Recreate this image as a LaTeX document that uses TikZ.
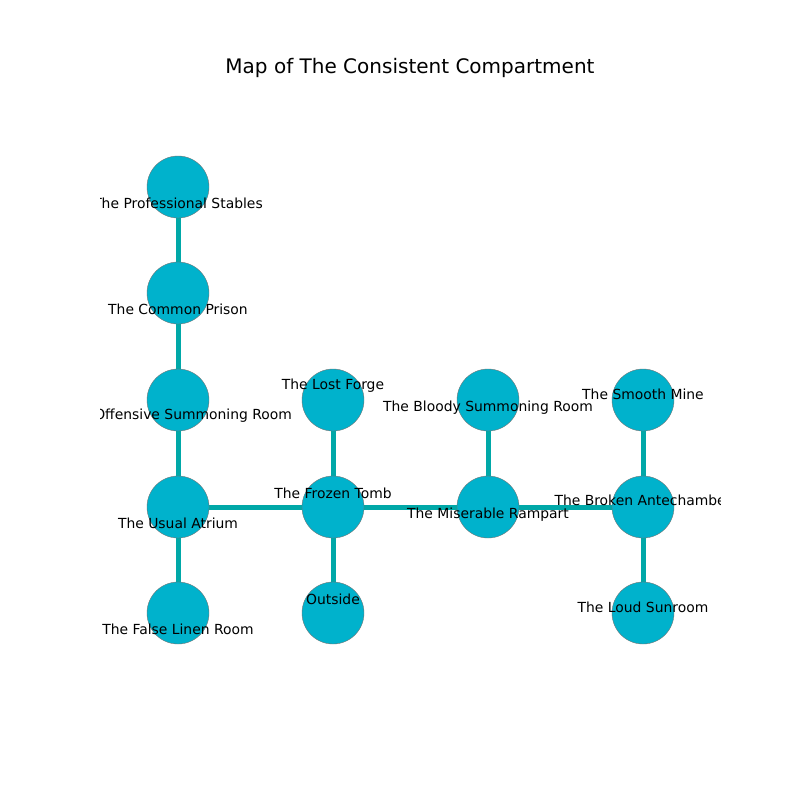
\documentclass[tikz,border=0pt]{standalone}
\usepackage{fontspec}
\setmainfont{DejaVu Sans}
\definecolor{roomfill}{RGB}{0,178,204}
\definecolor{passage}{RGB}{0,168,168}

\begin{document}
\begin{tikzpicture}[x=1pt, y=-1pt,
	room/.style={circle, fill=roomfill, draw=black!55, line width=0.4pt, minimum size=62pt, inner sep=0pt},
	door/.style={line width=5pt, color=passage},
	tag/.style={font=\fontsize{13.9}{16}\selectfont, inner sep=0pt, anchor=center}]
	%%%%% START %%%%%
	
	\useasboundingbox (0, 0) rectangle (800, 800);
	\fill[white] (0, 0) rectangle (800, 800);
	
	\node[font=\fontsize{20}{24}\selectfont] (title) at (410, 68) {Map of The Consistent Compartment};
	
	\coordinate (stables) at (178, 187);
	\coordinate (prison) at (178, 293);
	\coordinate (offensive) at (178, 400);
	\coordinate (atrium) at (178, 507);
	\coordinate (linen) at (178, 613);
	\coordinate (forge) at (333, 400);
	\coordinate (tomb) at (333, 507);
	\coordinate (outside) at (333, 613);
	\coordinate (bloody) at (488, 400);
	\coordinate (rampart) at (488, 507);
	\coordinate (mine) at (643, 400);
	\coordinate (antechamber) at (643, 507);
	\coordinate (sunroom) at (643, 613);
	
	\draw[door] (stables) -- (prison);
	\draw[door] (prison) -- (offensive);
	\draw[door] (offensive) -- (atrium);
	\draw[door] (atrium) -- (linen);
	\draw[door] (atrium) -- (tomb);
	\draw[door] (tomb) -- (forge);
	\draw[door] (tomb) -- (outside);
	\draw[door] (tomb) -- (rampart);
	\draw[door] (rampart) -- (bloody);
	\draw[door] (rampart) -- (antechamber);
	\draw[door] (antechamber) -- (mine);
	\draw[door] (antechamber) -- (sunroom);
	
	\foreach \r in {stables, prison, offensive, atrium, linen, forge, tomb, outside, bloody, rampart, mine, antechamber, sunroom}
		\node[room] (\r-c) at (\r) {};
	
	\begin{scope}
		\clip (100, 96) rectangle (720, 704);
		\node[tag] (stables-t) at (178, 203) {The Professional Stables};
		\node[tag] (prison-t) at (178, 309) {The Common Prison};
		\node[tag] (offensive-t) at (178, 416) {The Offensive Summoning Room};
		\node[tag] (atrium-t) at (178, 523) {The Usual Atrium};
		\node[tag] (linen-t) at (178, 629) {The False Linen Room};
		\node[tag] (forge-t) at (333, 386) {The Lost Forge};
		\node[tag] (tomb-t) at (333, 493) {The Frozen Tomb};
		\node[tag] (outside-t) at (333, 599) {Outside};
		\node[tag] (bloody-t) at (488, 408) {The Bloody Summoning Room};
		\node[tag] (rampart-t) at (488, 515) {The Miserable Rampart};
		\node[tag] (mine-t) at (643, 394) {The Smooth Mine};
		\node[tag] (antechamber-t) at (643, 500) {The Broken Antechamber};
		\node[tag] (sunroom-t) at (643, 607) {The Loud Sunroom};
	\end{scope}
	
	%%%%% END %%%%%
\end{tikzpicture}
\end{document}
